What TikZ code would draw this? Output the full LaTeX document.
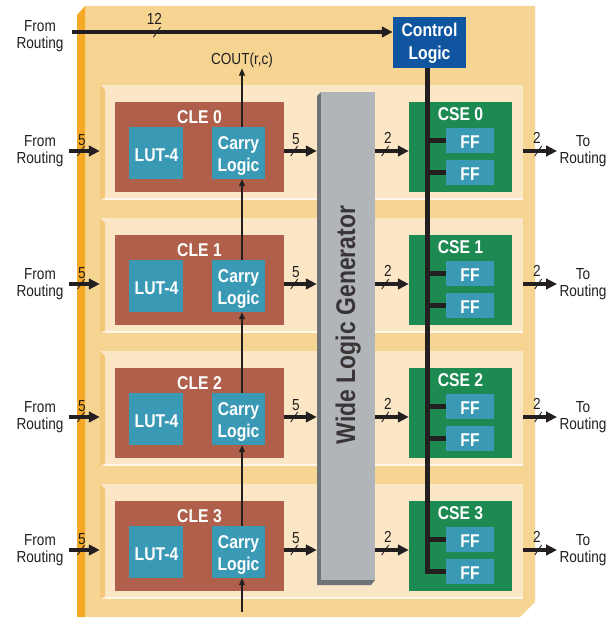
\documentclass[tikz,border=0pt]{standalone}
\usepackage{fontspec}
\setmainfont{Liberation Sans}[FakeStretch=0.85]
\usetikzlibrary{arrows.meta,decorations.markings}
\definecolor{boardC}{HTML}{F6D592}
\definecolor{orangeC}{HTML}{F5A927}
\definecolor{rowC}{HTML}{FBE6C5}
\definecolor{rowedgeC}{HTML}{F3C878}
\definecolor{rowhiC}{HTML}{FFF7EC}
\definecolor{cleC}{HTML}{B0604A}
\definecolor{tealC}{HTML}{3A9AB5}
\definecolor{cseC}{HTML}{1D8A52}
\definecolor{blueC}{HTML}{0F55A0}
\definecolor{wlgC}{HTML}{B1B4B9}
\definecolor{wlgdarkC}{HTML}{6D7377}
\definecolor{ink}{HTML}{231F20}
\tikzset{
  lab/.style={font=\fontsize{16}{17.6}\selectfont, text=ink, align=center, inner sep=0pt},
  blab/.style={font=\fontsize{18.5}{22.5}\selectfont\bfseries, text=white, align=center, inner sep=0pt},
  clebox/.style={fill=cleC, minimum width=169, minimum height=90, inner sep=0pt},
  csebox/.style={fill=cseC, minimum width=103, minimum height=90, inner sep=0pt},
  tealbox/.style={fill=tealC, inner sep=0pt},
  rowbox/.style={fill=rowC, minimum width=423, minimum height=115, inner sep=0pt},
  bigarrow/.style={draw=ink, line width=4.4pt, -{Triangle[length=11pt,width=10.5pt]}},
  thinarrow/.style={draw=ink, line width=1.1pt, -{Triangle[length=7pt,width=6pt]}},
  ctrlline/.style={draw=ink, line width=5pt},
  busslash/.style={postaction={decorate}, decoration={markings, mark=at position #1 with {\draw[draw=ink, line width=0.9pt, -] (-3.5pt,-5pt) -- (3.5pt,5pt);}}}
}
\begin{document}
\begin{tikzpicture}[x=1pt,y=-1pt]
\useasboundingbox (0,0) rectangle (610,618);
% board
\fill[boardC] (85,6) -- (535,6) -- (535,602) -- (520,617) -- (85,617) -- cycle;
\fill[orangeC] (77,15) -- (85,6) -- (85,617) -- (77,617) -- cycle;
% rows and elements
\foreach \k in {0,1,2,3}{
  \pgfmathsetmacro\dy{133*\k}
  \node[rowbox] (row\k) at (311.5,{142.5+\dy}) {};
  \fill[rowedgeC] (100,{85+\dy}) -- (105,{90+\dy}) -- (105,{197+\dy}) -- (100,{200+\dy}) -- cycle;
  \fill[rowhiC] (105,{197.5+\dy}) rectangle (523,{200+\dy});
  \node[clebox] (cle\k) at (199.5,{147+\dy}) {};
  \node[blab, anchor=base] (clet\k) at (199.5,{123+\dy}) {CLE \k};
  \node[tealbox, minimum width=54, minimum height=52] (lut\k) at (156,{153+\dy}) {};
  \node[blab, anchor=base] (lutt\k) at (156.5,{161+\dy}) {LUT-4};
  \node[tealbox, minimum width=53, minimum height=52] (car\k) at (238.5,{153+\dy}) {};
  \node[blab, anchor=north] (cart\k) at (238.5,{136+\dy}) {Carry\\Logic};
  \node[csebox] (cse\k) at (460.5,{147+\dy}) {};
  \node[blab, anchor=base] (cset\k) at (460.5,{120+\dy}) {CSE \k};
  \node[tealbox, minimum width=48, minimum height=25] (ffa\k) at (470,{140.5+\dy}) {};
  \node[blab, anchor=base] (ffat\k) at (470,{148+\dy}) {FF};
  \node[tealbox, minimum width=48, minimum height=25] (ffb\k) at (470,{172+\dy}) {};
  \node[blab, anchor=base] (ffbt\k) at (470,{180+\dy}) {FF};
}
% wide logic generator
\node[minimum width=58, minimum height=493, inner sep=0pt] (wlg) at (346,338.5) {};
\fill[wlgdarkC] (317,96) -- (321,92) -- (321,580) -- (375,580) -- (371,585) -- (317,585) -- cycle;
\fill[wlgC] (321,92) rectangle (375,580);
\node[font=\fontsize{27}{27}\selectfont\bfseries, text=ink!90, rotate=90, anchor=base, inner sep=0pt] (wlgt) at (355,325) {Wide Logic Generator};
% control logic
\node[fill=blueC, minimum width=73, minimum height=51, inner sep=0pt] (ctl) at (429.5,42.5) {};
\node[blab, anchor=north] (ctlt) at (429.5,23) {Control\\Logic};
\coordinate (cbus) at ([xshift=-2]ctl.south);
\draw[ctrlline] (cbus) -- (cbus |- ffb3.west) -- (ffb3.west);
\foreach \k in {0,1,2}{
  \draw[ctrlline] (cbus |- ffa\k.west) -- (ffa\k.west);
  \draw[ctrlline] (cbus |- ffb\k.west) -- (ffb\k.west);
}
\draw[ctrlline] (cbus |- ffa3.west) -- (ffa3.west);
% top bus
\coordinate (busin) at (72,32);
\node[lab, anchor=north] (frt) at (40,20) {From\\Routing};
\draw[bigarrow, busslash=85pt] (busin) -- (busin -| ctl.west);
\node[lab, anchor=base] (l12) at (154.5,25) {12};
% row arrows
\foreach \k in {0,1,2,3}{
  \pgfmathsetmacro\dy{133*\k}
  \coordinate (in\k) at (69,{151+\dy});
  \coordinate (out\k) at (557,{151+\dy});
  \node[lab, anchor=north] (fr\k) at (40,{135+\dy}) {From\\Routing};
  \node[lab, anchor=north] (tr\k) at (583,{135+\dy}) {To\\Routing};
  \draw[bigarrow, busslash=12pt] (in\k) -- (in\k -| row\k.west);
  \node[lab, anchor=base] (la\k) at (82,{145+\dy}) {5};
  \draw[bigarrow, busslash=10pt] (in\k -| cle\k.east) -- (in\k -| wlg.west);
  \node[lab, anchor=base] (lb\k) at (296,{144+\dy}) {5};
  \draw[bigarrow, busslash=10pt] (in\k -| wlg.east) -- (in\k -| cse\k.west);
  \node[lab, anchor=base] (lc\k) at (388,{143+\dy}) {2};
  \draw[bigarrow, busslash=15pt] (in\k -| row\k.east) -- (out\k);
  \node[lab, anchor=base] (ld\k) at (537,{143+\dy}) {2};
}
% carry chain
\node[lab, anchor=base] (cout) at (242,65) {COUT(r,c)};
\coordinate (cin) at (242,612);
\draw[thinarrow] (cin) -- ([xshift=3.5]car3.south);
\draw[thinarrow] ([xshift=3.5]car3.north) -- ([xshift=3.5]car2.south);
\draw[thinarrow] ([xshift=3.5]car2.north) -- ([xshift=3.5]car1.south);
\draw[thinarrow] ([xshift=3.5]car1.north) -- ([xshift=3.5]car0.south);
\draw[thinarrow] ([xshift=3.5]car0.north) -- (cout.south);
\end{tikzpicture}
\end{document}
